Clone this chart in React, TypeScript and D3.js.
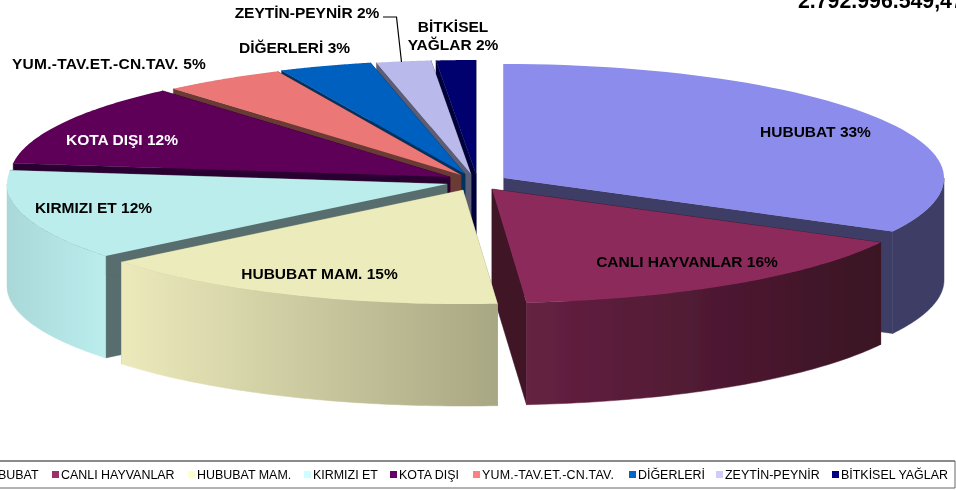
import React from "react";
import * as d3 from "d3";

const categories = ["HUBUBAT", "CANLI HAYVANLAR", "HUBUBAT MAM.", "KIRMIZI ET", "KOTA DIŞI", "YUM.-TAV.ET.-CN.TAV.", "DİĞERLERİ", "ZEYTİN-PEYNİR", "BİTKİSEL YAĞLAR"];
const values = [32.8, 16.0, 15.4, 12.8, 11.75, 4.5, 3.4, 2.0, 1.45];
const percentLabels = ["33%", "16%", "15%", "12%", "12%", "5%", "3%", "2%", "2%"];
const titleText = "2.792.996.549,47";

const topColors = ["#8c8ced", "#8c2c5c", "#ecebbb", "#bbeded", "#5e0059", "#ec7777", "#0060bf", "#b9b9ec", "#00006e"];
const cutColors = ["#3d3d66", "#3f1528", "#a9a985", "#596d6d", "#2c0030", "#6b3a35", "#00305f", "#5d5d76", "#00003a"];
const legendColors = ["#9999ff", "#993366", "#ffffcc", "#ccffff", "#660066", "#ff8080", "#0066cc", "#ccccff", "#000080"];
const apexX = [504, 492, 463, 447, 450, 461, 465, 471, 476];
const apexY = [178, 189, 190, 184, 177, 175, 174, 174, 174];
const legendX = [-29, 52, 188, 304, 390, 473, 629, 716, 832];
const legendSpacing = [0, 0, 0, 0, 0, 0.2, 0, 0, 0];
const labelX = [815.5, 687, 319.5, 93.5, 122, 109, 294.5, 307, 453];
const labelY = [132, 262, 274, 208, 140, 64, 48, 13, 27];
const labelFill = ["#000", "#000", "#000", "#000", "#fff", "#000", "#000", "#000", "#000"];
const labelSpacing = [0, 0, 0, 0, 0, 0.27, 0, 0, 0];
const labelBreak = [0, 0, 0, 0, 0, 0, 0, 0, 1];
const paintOrder = [8, 7, 6, 5, 4, 3, 0, 1, 2];

const RX = 440, RY = 114, DEPTH = 102;
const slices = d3.pie<number>().sort(null).value((d) => d)(values);
const line = d3.line<[number, number]>().x((d) => d[0]).y((d) => d[1]);
const rim = (i: number, t: number, dy = 0): [number, number] => [apexX[i] + RX * Math.sin(t), apexY[i] - RY * Math.cos(t) + dy];
const arcPts = (i: number, a: number, b: number, dy = 0) => d3.range(0, 61).map((k) => rim(i, a + ((b - a) * k) / 60, dy));

const labelLines = (i: number): string[] => {
  const text = `${categories[i]} ${percentLabels[i]}`;
  if (!labelBreak[i]) return [text];
  const words = text.split(" ");
  return [words.slice(0, labelBreak[i]).join(" "), words.slice(labelBreak[i]).join(" ")];
};
const FONT = "'Liberation Sans', Arial, sans-serif";

export default function App() {
  const sideGrad = [
    { id: "w1", x1: 527, x2: 880, c1: "#652142", c2: "#3a1224" },
    { id: "w2", x1: 122, x2: 498, c1: "#eceabb", c2: "#a8a783" },
    { id: "w3", x1: 8, x2: 104, c1: "#aad8d9", c2: "#bbeded" },
  ];
  const wallFill = ["#3d3d66", "url(#w1)", "url(#w2)", "url(#w3)"];
  return (
    <svg width={956} height={490} style={{ position: "absolute", left: 0, top: 0, background: "#fff" }} fontFamily={FONT}>
      <defs>
        {sideGrad.map((g) => (
          <linearGradient key={g.id} id={g.id} gradientUnits="userSpaceOnUse" x1={g.x1} x2={g.x2} y1={0} y2={0}>
            <stop offset="0" stopColor={g.c1} />
            <stop offset="1" stopColor={g.c2} />
          </linearGradient>
        ))}
        <filter id="soft" x="-5%" y="-5%" width="110%" height="110%">
          <feGaussianBlur stdDeviation="0.45" />
        </filter>
      </defs>
      <g filter="url(#soft)">
        {paintOrder.map((i) => {
          const s = slices[i];
          const a = s.startAngle, b = s.endAngle;
          const apex: [number, number] = [apexX[i], apexY[i]];
          const face = (t: number) => line([apex, rim(i, t), rim(i, t, DEPTH), [apex[0], apex[1] + DEPTH], apex]) as string;
          const wa = Math.max(a, Math.PI / 2), wb = Math.min(b, (3 * Math.PI) / 2);
          const wall = wb > wa ? (line([...arcPts(i, wa, wb), ...arcPts(i, wb, wa, DEPTH)]) as string) + "Z" : null;
          const wf = wallFill[i] || cutColors[i];
          return (
            <g key={i}>
              <path d={face(a)} fill={cutColors[i]} stroke={cutColors[i]} strokeWidth={0.5} />
              <path d={face(b)} fill={cutColors[i]} stroke={cutColors[i]} strokeWidth={0.5} />
              {wall && <path d={wall} fill={wf} stroke={wf} strokeWidth={0.5} />}
              <path d={(line([apex, ...arcPts(i, a, b)]) as string) + "Z"} fill={topColors[i]} />
            </g>
          );
        })}
        <path d="M383,17H396.5L401.5,62" fill="none" stroke="#000" strokeWidth={1.2} />
        <text x={798} y={7.5} fontSize={21.3} fontWeight={700} fill="#000">{titleText}</text>
        {categories.map((c, i) => (
          <text key={c} textAnchor="middle" fontSize={15.5} fontWeight={700} letterSpacing={labelSpacing[i]} fill={labelFill[i]}>
            {labelLines(i).map((t, k) => (
              <tspan key={k} x={labelX[i]} y={labelY[i] + 5 + k * 18}>{t}</tspan>
            ))}
          </text>
        ))}
        <path d="M-2,461H955" fill="none" stroke="#111" strokeWidth={1} />
        <path d="M955,461V488H-2" fill="none" stroke="#666" strokeWidth={1} />
        {categories.map((c, i) => (
          <g key={c}>
            <rect x={legendX[i]} y={471} width={7} height={7} fill={legendColors[i]} />
            <text x={legendX[i] + 9} y={479} fontSize={12.45} letterSpacing={legendSpacing[i]} fill="#000">{c}</text>
          </g>
        ))}
      </g>
    </svg>
  );
}
